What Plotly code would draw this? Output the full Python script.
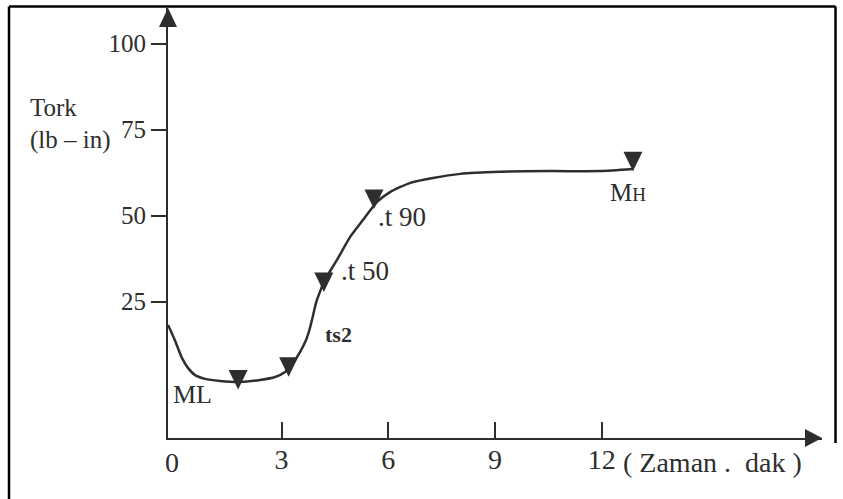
import plotly.graph_objects as go

# ---- data ----
time_min = [-0.19, 0.0, 0.20, 0.37, 0.57, 0.85, 1.27, 1.83, 2.40, 2.82, 3.10, 3.32,
            3.52, 3.69, 3.80, 3.89, 3.97, 4.08, 4.22, 4.56, 4.93, 5.29, 5.68, 6.05,
            6.62, 7.26, 8.02, 9.14, 10.55, 11.95, 12.88]
torque = [18.2, 13.8, 8.6, 5.7, 3.6, 2.5, 1.9, 1.6, 2.2, 3.05, 4.5, 7.1,
          10.3, 13.8, 17.3, 21.1, 24.6, 27.8, 31.3, 37.1, 43.8, 48.7, 53.9, 56.8,
          59.5, 60.9, 62.1, 62.7, 62.9, 62.9, 63.5]

mark_time = [1.78, 3.20, 4.19, 5.60, 12.88]
mark_torque = [2.3, 6.0, 30.7, 54.8, 65.8]

label_text = ["ML", "<b>ts2</b>", ".t 50", ".t 90", "M<span style='font-size:19px'>H</span>"]
label_time = [0.51, 4.59, 5.34, 6.39, 12.74]
label_torque = [-1.9, 15.3, 33.9, 49.6, 56.8]
label_size = [26, 22, 27, 27, 25]

x_ticks = [3, 6, 9, 12]
y_ticks = [25, 50, 75, 100]

# ---- layout geometry ----
W, H = 843, 499
ML_, MR, MT, MB = 168, 21, 8, 61
PW, PH = W - ML_ - MR, H - MT - MB
X_RANGE = [-0.191, 18.195]
Y_RANGE = [-14.68, 110.32]
INK = "#2e2e2e"
FONT = "Liberation Serif"


def paper(px, py):
    return (px - ML_) / PW, (H - MB - py) / PH


fig = go.Figure()

fig.add_trace(go.Scatter(
    x=time_min, y=torque, mode="lines",
    line=dict(color=INK, width=2.5, shape="spline", smoothing=0.6),
    hoverinfo="skip", showlegend=False, cliponaxis=False))

# invisible points to keep marker data on the plot (hover)
fig.add_trace(go.Scatter(
    x=mark_time, y=mark_torque, mode="markers",
    marker=dict(size=1, color="rgba(0,0,0,0)"), showlegend=False))

# triangle markers, fixed pixel size anchored on data positions
for xv, yv in zip(mark_time, mark_torque):
    fig.add_shape(type="path", xref="x", yref="y",
                  xsizemode="pixel", ysizemode="pixel",
                  xanchor=xv, yanchor=yv,
                  path="M-9.5,9.5 L9.5,9.5 L0,-10 Z",
                  fillcolor=INK, line=dict(width=0), layer="above")

# axis arrowheads
fig.add_shape(type="path", xref="paper", yref="paper",
              xsizemode="pixel", ysizemode="pixel", xanchor=0, yanchor=1,
              path="M0,0 L-9,-19 L9,-19 Z", fillcolor=INK, line=dict(width=0))
fig.add_shape(type="path", xref="paper", yref="paper",
              xsizemode="pixel", ysizemode="pixel", xanchor=1, yanchor=0,
              path="M0,0 L-17,9 L-17,-9 Z", fillcolor=INK, line=dict(width=0))

# outer frame
x0, y0 = paper(9, 6.5)
x1, y1 = paper(835.5, 443)
_, yb = paper(0, 499)
fig.add_shape(type="line", xref="paper", yref="paper", x0=x0, y0=y0, x1=x1, y1=y0,
              line=dict(color="black", width=2.5))
fig.add_shape(type="line", xref="paper", yref="paper", x0=x0, y0=y0, x1=x0, y1=yb,
              line=dict(color="black", width=2.5))
fig.add_shape(type="line", xref="paper", yref="paper", x0=x1, y0=y0, x1=x1, y1=y1,
              line=dict(color="black", width=2.5))

# curve labels
for t, xv, yv, s in zip(label_text, label_time, label_torque, label_size):
    fig.add_annotation(x=xv, y=yv, text=t, showarrow=False,
                       xanchor="center", yanchor="middle",
                       font=dict(family=FONT, size=s, color=INK))


def note(px, py, text, size, xanchor="center"):
    ax, ay = paper(px, py)
    fig.add_annotation(xref="paper", yref="paper", x=ax, y=ay, text=text,
                       showarrow=False, xanchor=xanchor, yanchor="middle",
                       font=dict(family=FONT, size=size, color=INK))


note(172, 462, "0", 28)
note(621, 462, "( Zaman .  dak )", 28, "left")
note(28, 108, "Tork", 25, "left")
note(28, 140, "(lb \u2013 in)", 25, "left")

fig.update_xaxes(range=X_RANGE, tickvals=x_ticks, ticktext=[str(v) for v in x_ticks],
                 ticks="inside", ticklen=16, tickwidth=2, tickcolor=INK,
                 ticklabelstandoff=-5,
                 showline=True, linewidth=2, linecolor=INK,
                 showgrid=False, zeroline=False, fixedrange=True,
                 tickfont=dict(family=FONT, size=28, color=INK))
fig.update_yaxes(range=Y_RANGE, tickvals=y_ticks, ticktext=[str(v) for v in y_ticks],
                 ticks="outside", ticklen=15, tickwidth=2, tickcolor=INK,
                 showline=True, linewidth=2, linecolor=INK,
                 showgrid=False, zeroline=False, fixedrange=True,
                 tickfont=dict(family=FONT, size=25, color=INK))

fig.update_layout(width=W, height=H, margin=dict(l=ML_, r=MR, t=MT, b=MB),
                  paper_bgcolor="white", plot_bgcolor="white",
                  showlegend=False, font=dict(family=FONT, color=INK))

fig.write_html("out.html", config={"displayModeBar": False},
               post_script="document.body.style.margin='0';")
